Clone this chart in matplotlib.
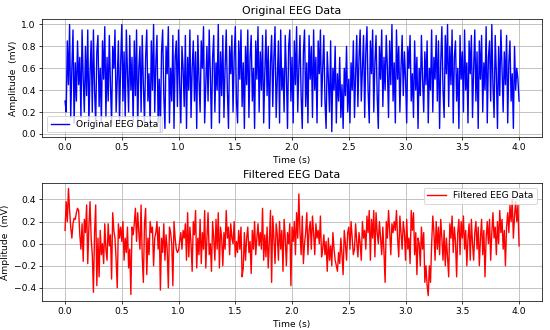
import numpy as np
import matplotlib
matplotlib.use("Agg")
import matplotlib.pyplot as plt

# sampled EEG values, one every 10 ms from 0 to 4 s
fs = 100
original = [
    0.30, 0.20, 0.85, 0.45, 1.00, 0.15, 0.60, 0.95, 0.10, 0.65, 0.30, 0.85, 0.45, 0.70, 0.15, 0.95, 0.50, 0.20, 0.80, 0.35,
    0.95, 0.10, 0.55, 0.85, 0.20, 0.95, 0.40, 0.10, 0.75, 0.90, 0.25, 0.60, 0.10, 0.85, 0.50, 0.98, 0.15, 0.70, 0.30, 0.90,
    0.45, 0.10, 0.80, 0.60, 0.95, 0.20, 0.50, 0.85, 0.10, 0.65, 1.00, 0.30, 0.75, 0.15, 0.95, 0.55, 0.20, 0.90, 0.40, 0.70,
    0.10, 0.85, 0.35, 0.95, 0.05, 0.60, 0.80, 0.20, 0.90, 0.45, 0.10, 0.70, 0.95, 0.30, 0.55, 0.05, 0.85, 0.40, 1.00, 0.20,
    0.65, 0.90, 0.10, 0.50, 0.02, 0.75, 0.95, 0.35, 0.05, 0.80, 0.55, 0.98, 0.10, 0.60, 0.30, 0.90, 0.05, 0.70, 0.85, 0.25,
    0.95, 0.45, 0.10, 0.80, 0.60, 0.25, 0.90, 0.05, 0.70, 0.40, 0.95, 0.15, 0.60, 0.85, 0.30, 0.75, 0.05, 0.90, 0.50, 0.20,
    0.85, 0.60, 0.98, 0.10, 0.45, 0.80, 0.30, 0.95, 0.55, 0.05, 0.70, 0.90, 0.20, 0.65, 0.40, 1.00, 0.10, 0.75, 0.35, 0.90,
    0.15, 0.60, 0.95, 0.40, 0.05, 0.80, 0.55, 0.90, 0.20, 0.70, 0.98, 0.30, 0.10, 0.85, 0.50, 0.95, 0.25, 0.65, 0.05, 0.80,
    0.45, 0.95, 0.15, 0.70, 0.90, 0.30, 0.60, 0.05, 0.85, 0.50, 0.98, 0.20, 0.75, 0.40, 0.90, 0.10, 0.55, 0.95, 0.35, 0.80,
    0.05, 0.65, 0.90, 0.25, 0.70, 0.98, 0.15, 0.50, 0.85, 0.10, 0.95, 0.40, 0.60, 0.20, 0.90, 0.55, 0.05, 0.80, 0.95, 0.30,
    0.70, 0.10, 0.85, 0.45, 0.98, 0.20, 0.60, 0.90, 0.35, 0.05, 0.75, 0.95, 0.25, 0.65, 0.10, 0.90, 0.50, 0.80, 0.15, 0.95,
    0.40, 0.70, 0.10, 0.85, 0.55, 0.95, 0.25, 0.60, 0.90, 0.30, 0.05, 0.75, 0.50, 0.20, 0.85, 0.02, 0.60, 0.40, 0.80, 0.10,
    0.55, 0.30, 0.70, 0.15, 0.45, 0.05, 0.60, 0.35, 0.80, 0.20, 0.50, 0.10, 0.65, 0.40, 0.85, 0.15, 0.55, 0.90, 0.25, 0.70,
    0.95, 0.30, 0.60, 0.90, 0.15, 0.75, 0.98, 0.40, 0.10, 0.85, 0.55, 0.95, 0.20, 0.65, 0.90, 0.35, 0.05, 0.80, 0.50, 0.95,
    0.25, 0.70, 0.40, 0.90, 0.60, 0.15, 0.85, 0.45, 1.00, 0.30, 0.65, 0.10, 0.95, 0.50, 0.80, 0.20, 0.60, 0.90, 0.35, 0.75,
    0.50, 0.10, 0.80, 0.60, 0.90, 0.30, 0.55, 0.15, 0.85, 0.40, 0.70, 0.05, 0.60, 0.35, 0.90, 0.50, 0.20, 0.75, 0.45, 0.85,
    0.10, 0.60, 0.40, 0.95, 0.20, 0.70, 0.50, 0.90, 0.30, 0.85, 0.05, 0.65, 0.98, 0.40, 0.15, 0.90, 0.55, 1.00, 0.25, 0.80,
    0.45, 0.95, 0.10, 0.70, 0.85, 0.30, 0.60, 0.05, 0.90, 0.50, 0.75, 0.20, 0.95, 0.40, 0.65, 0.10, 0.85, 0.55, 0.90, 0.15,
    0.60, 0.95, 0.30, 0.75, 0.05, 0.85, 0.50, 0.90, 0.20, 0.65, 0.40, 0.98, 0.10, 0.70, 0.85, 0.30, 1.00, 0.45, 0.15, 0.90,
    0.55, 0.05, 0.80, 0.35, 0.95, 0.60, 0.20, 0.75, 0.45, 0.90, 0.10, 0.65, 0.85, 0.30, 0.55, 0.05, 0.80, 0.40, 0.60, 0.50,
    0.30,
]
filtered = [
    0.12, 0.38, 0.20, 0.50, 0.30, 0.15, 0.05, 0.18, 0.23, 0.22, 0.28, 0.32, 0.30, 0.08, -0.05, 0.18, -0.16, 0.22, 0.10, 0.35,
    -0.18, 0.15, 0.38, 0.05, -0.10, -0.44, 0.10, 0.35, -0.38, 0.05, -0.30, 0.12, -0.10, 0.00, -0.18, 0.18, -0.05, -0.15, 0.18, -0.02,
    0.08, -0.32, 0.28, 0.12, 0.05, -0.15, -0.40, 0.18, 0.05, 0.15, 0.02, 0.20, -0.15, 0.05, -0.08, 0.15, -0.22, -0.05, -0.46, 0.15,
    0.08, 0.18, 0.32, 0.02, 0.28, 0.10, -0.05, 0.35, -0.12, -0.35, 0.18, 0.32, -0.28, 0.05, -0.10, 0.20, 0.10, 0.15, -0.20, 0.05,
    0.10, 0.20, -0.05, 0.15, -0.42, 0.05, -0.08, 0.18, -0.15, 0.08, -0.05, -0.40, 0.15, 0.10, 0.00, -0.38, 0.20, 0.05, -0.05, -0.08,
    -0.06, 0.02, 0.10, -0.05, 0.12, 0.05, 0.18, -0.15, 0.28, -0.12, 0.15, 0.00, -0.25, 0.20, 0.08, 0.30, -0.22, 0.05, -0.10, 0.22,
    -0.18, 0.10, -0.05, 0.30, -0.22, 0.05, 0.28, -0.10, 0.00, -0.25, 0.20, 0.05, -0.15, 0.22, -0.05, 0.28, -0.22, 0.15, 0.05, -0.20,
    0.10, -0.05, 0.30, 0.05, 0.15, -0.10, 0.18, 0.05, 0.00, 0.20, -0.12, 0.02, -0.08, 0.12, -0.05, 0.15, -0.30, -0.22, 0.10, -0.15,
    0.05, 0.15, -0.08, 0.02, -0.27, 0.12, -0.05, 0.20, -0.10, 0.05, 0.18, -0.02, 0.10, -0.05, 0.32, -0.15, 0.08, -0.12, 0.15, -0.22,
    0.02, 0.30, -0.35, 0.25, 0.05, -0.18, 0.18, 0.08, -0.15, 0.20, -0.05, 0.12, -0.25, 0.22, 0.05, -0.20, 0.10, 0.00, 0.18, -0.38,
    0.15, 0.02, 0.20, -0.10, 0.28, 0.05, 0.45, 0.10, -0.10, 0.25, -0.18, 0.00, 0.10, 0.28, -0.10, 0.12, 0.20, -0.05, 0.25, 0.10,
    -0.10, 0.18, 0.05, 0.12, 0.00, 0.25, -0.12, -0.05, 0.08, -0.10, 0.02, -0.25, 0.05, -0.15, -0.02, -0.20, 0.10, -0.05, -0.15, -0.20,
    -0.25, -0.08, -0.18, 0.05, -0.10, -0.28, 0.12, 0.00, -0.15, 0.10, 0.15, -0.05, 0.20, 0.05, -0.10, -0.05, 0.18, 0.02, -0.12, 0.10,
    0.00, -0.15, 0.20, 0.05, 0.12, -0.05, 0.25, 0.10, 0.30, -0.15, 0.22, 0.05, 0.30, -0.12, 0.28, 0.10, 0.00, 0.20, 0.05, -0.10,
    0.15, -0.08, -0.35, 0.20, 0.05, 0.30, 0.12, -0.10, 0.18, 0.10, 0.20, 0.12, 0.30, 0.05, -0.12, 0.25, 0.10, -0.05, 0.20, 0.10,
    -0.15, 0.22, -0.05, 0.05, -0.18, 0.30, 0.12, 0.28, -0.10, 0.10, -0.28, 0.05, 0.00, -0.20, 0.15, -0.05, 0.10, -0.35, -0.20, -0.38,
    -0.47, -0.20, -0.35, 0.00, 0.25, 0.10, -0.15, 0.20, -0.05, 0.15, -0.10, 0.22, 0.05, -0.15, 0.12, -0.20, 0.05, -0.12, -0.30, 0.18,
    0.05, 0.25, -0.08, 0.15, 0.02, -0.30, 0.10, 0.22, -0.10, 0.20, 0.05, 0.25, -0.05, 0.12, -0.20, 0.05, 0.18, -0.15, 0.22, 0.00,
    -0.15, 0.10, 0.20, -0.05, 0.15, -0.20, 0.05, 0.22, -0.10, 0.12, -0.30, 0.05, 0.20, 0.00, 0.22, -0.15, 0.10, 0.28, 0.05, 0.15,
    -0.10, 0.20, 0.00, 0.30, 0.10, 0.22, -0.05, 0.12, -0.20, 0.15, 0.28, 0.10, 0.35, 0.20, 0.40, 0.05, 0.25, 0.38, 0.20, 0.35,
    -0.02,
]

t = np.arange(len(original)) / fs

# 550x330 px output
fig, (ax1, ax2) = plt.subplots(2, 1, figsize=(550 / 66, 5.0), dpi=66)
fig.subplots_adjust(left=0.077, right=0.985, top=0.942, bottom=0.088, hspace=0.39)

ax1.plot(t, original, color="blue", label="Original EEG Data")
ax1.set_title("Original EEG Data")
ax1.set_xlabel("Time (s)")
ax1.set_ylabel("Amplitude  (mV)")
ax1.grid(True)
ax1.legend(loc="lower left")

ax2.plot(t, filtered, color="red", label="Filtered EEG Data")
ax2.set_title("Filtered EEG Data")
ax2.set_xlabel("Time (s)")
ax2.set_ylabel("Amplitude  (mV)")
ax2.grid(True)
ax2.legend(loc="upper right")

fig.savefig("out.png")
